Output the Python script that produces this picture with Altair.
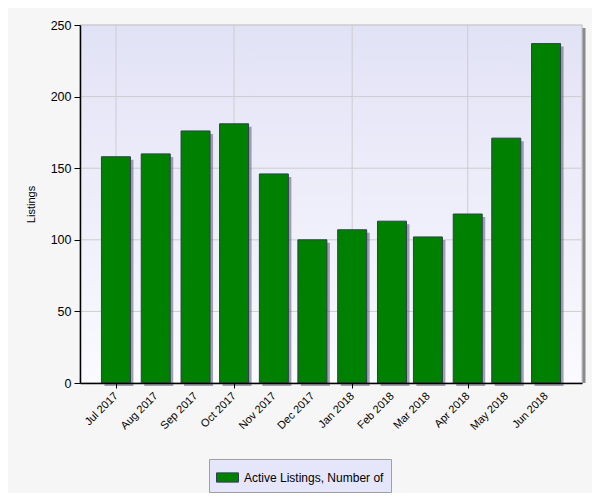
import altair as alt
import pandas as pd

months = ["2017-07-01", "2017-08-01", "2017-09-01", "2017-10-01", "2017-11-01", "2017-12-01",
          "2018-01-01", "2018-02-01", "2018-03-01", "2018-04-01", "2018-05-01", "2018-06-01"]
listings = [158, 160, 176, 181, 146, 100, 107, 113, 102, 118, 171, 237]
series_name = "Active Listings, Number of"
y_ticks = [0, 50, 100, 150, 200, 250]
x_grid_dates = ["2017-07-01", "2017-10-01", "2018-01-01", "2018-04-01"]

FONT = "Liberation Sans"

df = pd.DataFrame({
    "month": [m + "T00:00:00" for m in months],
    "listings": listings,
    "series": [series_name] * len(months),
})

x_scale = alt.Scale(domain=[alt.DateTime(year=2017, month=6, date=3),
                            alt.DateTime(year=2018, month=6, date=29)], padding=0)
y_scale = alt.Scale(domain=[0, 250], nice=False)

x_axis = alt.Axis(
    values=[alt.DateTime(year=int(m[:4]), month=int(m[5:7]), date=1) for m in months],
    format="%b %Y", labelAngle=-45, labelAlign="right", labelBaseline="middle",
    labelFont=FONT, labelFontSize=11, labelColor="black", labelPadding=6,
    tickColor="black", tickSize=5,
    tickOpacity={"condition": {"test": "month(datum.value) % 3 == 0", "value": 1}, "value": 0},
    domainColor="black", domainWidth=1.5, grid=False, title=None, labelOverlap=False,
    labelFlush=False, zindex=1,
)
y_axis = alt.Axis(
    values=y_ticks, labelFont=FONT, labelFontSize=12.5, labelColor="black", labelPadding=3,
    tickColor="black", tickSize=6, domainColor="black", domainWidth=1.5, grid=False,
    title="Listings", titleFont=FONT, titleFontSize=11, titleFontWeight="normal",
    titleColor="black", titlePadding=14, zindex=1,
)

bg_gradient = alt.LinearGradient(
    gradient="linear", x1=0, x2=0, y1=0, y2=1,
    stops=[alt.GradientStop(color="#e2e2f6", offset=0),
           alt.GradientStop(color="#fafaff", offset=1)],
)

bg = alt.Chart(alt.Data(values=[{}])).mark_rect(
    color=bg_gradient, stroke="#c8c8c8", strokeWidth=1.2
).encode(x=alt.value(0), x2=alt.value("width"), y=alt.value(0), y2=alt.value("height"))

edge_shadow = alt.Chart(alt.Data(values=[{}])).mark_rule(
    color="#8a8a8a", strokeWidth=3
).encode(x=alt.value(504), y=alt.value(3), y2=alt.value("height"))

grid_y = alt.Chart(pd.DataFrame({"v": y_ticks})).mark_rule(
    color="#cdcdcd", strokeWidth=1
).encode(y=alt.Y("v:Q", scale=y_scale, axis=y_axis))

grid_x = alt.Chart(pd.DataFrame({"d": [d + "T00:00:00" for d in x_grid_dates]})).mark_rule(
    color="#cdcdcd", strokeWidth=1
).encode(x=alt.X("d:T", scale=x_scale, axis=x_axis))

base = alt.Chart(df)

shadow = base.mark_bar(size=29, color="#5a5a70", opacity=0.55, xOffset=3, yOffset=3).encode(
    x=alt.X("month:T", scale=x_scale, axis=x_axis),
    y=alt.Y("listings:Q", scale=y_scale, axis=y_axis),
)

bars = base.mark_bar(size=29, stroke="#2f3f4f", strokeWidth=1).encode(
    x=alt.X("month:T", scale=x_scale, axis=x_axis),
    y=alt.Y("listings:Q", scale=y_scale, axis=y_axis),
    color=alt.Color(
        "series:N",
        scale=alt.Scale(domain=[series_name], range=["#008000"]),
        legend=alt.Legend(
            title=None, orient="none", legendX=129, legendY=434,
            fillColor="#e6e6fa", strokeColor="#a0a0a0", padding=7,
            symbolType="M-1,-0.42H1V0.42H-1Z", symbolSize=484,
            symbolStrokeColor="#2f3f4f", symbolStrokeWidth=1, symbolOpacity=1,
            labelFont=FONT, labelFontSize=12, labelColor="black", labelOffset=5,
            labelLimit=300,
        ),
    ),
)

chart = alt.layer(bg, grid_y, grid_x, edge_shadow, shadow, bars).properties(
    width=502, height=358, autosize="none",
    padding={"left": 72, "top": 17, "right": 10, "bottom": 110},
).configure_view(strokeWidth=0).configure(background="#f6f6f6")

chart.save("out.html", embed_options={"renderer": "svg", "actions": False})
